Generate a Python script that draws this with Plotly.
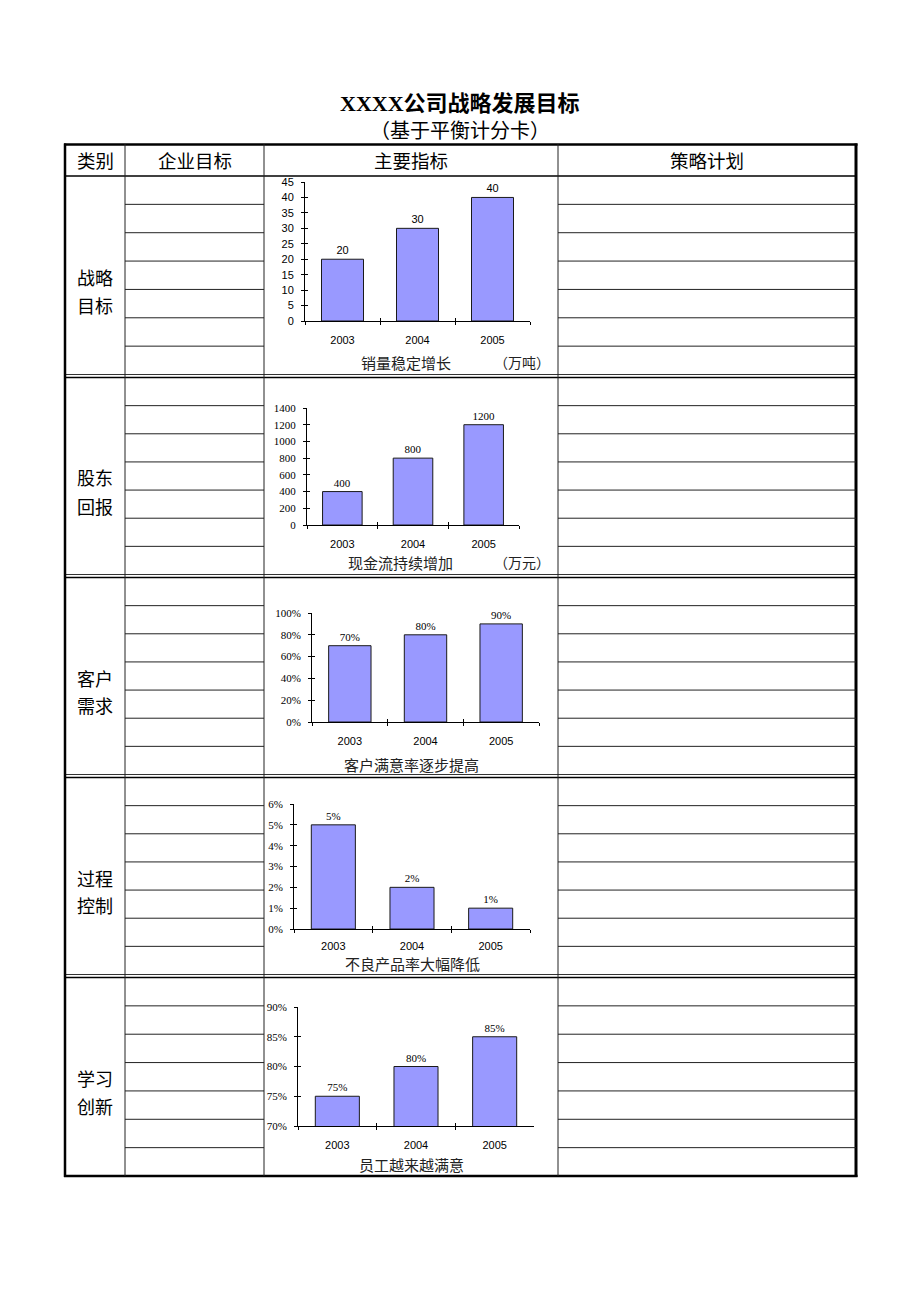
import plotly.graph_objects as go

W, H = 920, 1301

# ---------------- data ----------------
years = ['2003', '2004', '2005']
sales = [20, 30, 40]                 # 销量 (万吨)
cashflow = [400, 800, 1200]          # 现金流 (万元)
satisfaction = [0.70, 0.80, 0.90]    # 客户满意率
defect_rate = [0.05, 0.02, 0.01]     # 不良产品率
employee_sat = [0.75, 0.80, 0.85]    # 员工满意度

title_text = 'XXXX公司战略发展目标'
subtitle_text = '（基于平衡计分卡）'
header_labels = ['类别', '企业目标', '主要指标', '策略计划']
category_labels = [['战略', '目标'], ['股东', '回报'], ['客户', '需求'],
                   ['过程', '控制'], ['学习', '创新']]
captions = ['销量稳定增长', '现金流持续增加', '客户满意率逐步提高',
            '不良产品率大幅降低', '员工越来越满意']
units = ['（万吨）', '（万元）', '', '', '']

series = [sales, cashflow, satisfaction, defect_rate, employee_sat]
y_ranges = [[0, 45], [0, 1400], [0, 1.0], [0, 0.06], [0.70, 0.90]]
y_dticks = [5, 200, 0.2, 0.01, 0.05]
y_formats = ['', '', '.0%', '.0%', '.0%']
text_templates = ['%{y}', '%{y}', '%{y:.0%}', '%{y:.0%}', '%{y:.0%}']

# ---------------- layout geometry (pixels) ----------------
def px(x):
    return x / W

def py(y):
    return 1 - y / H

# chart plot areas: (x0, x1, ytop, ybottom)
chart_boxes = [(305, 530, 182, 321), (307, 519, 408, 525), (312, 539, 613, 722),
               (294, 530, 804, 929), (298, 534, 1007, 1126)]
label_standoff = [9, 9, 9, 7, 9]
caption_pos = [(406, 362), (400, 562), (411, 764), (412, 964), (411, 1164)]
unit_x = 522

col_x = [65, 125, 264, 558, 856]
top_y, head_y = 144.5, 176
sec_start = [176, 377.5, 577.5, 777.5, 977.5]
sec_end = [374.5, 574.5, 774.5, 974.5, 1176]

SERIF = 'Liberation Serif, Noto Sans CJK SC, serif'
SANS = 'Liberation Sans, Arial, sans-serif'
CJK = 'Noto Sans CJK SC, sans-serif'

fig = go.Figure()
layout = dict(width=W, height=H, margin=dict(l=0, r=0, t=0, b=0, pad=0),
              autosize=False,
              paper_bgcolor='white', plot_bgcolor='white', showlegend=False,
              bargap=0.44)

annotations = []
shapes = []


def note(x, y, text, font):
    annotations.append(dict(x=px(x), y=py(y), xref='paper', yref='paper', text=text,
                            showarrow=False, xanchor='center', yanchor='middle',
                            font=font))


ncat = len(years)
boundaries = [k - 0.5 for k in range(ncat + 1)]

for i, vals in enumerate(series):
    n = i + 1
    m = n + len(series)          # overlay axes id (for crossing tick marks)
    xa = 'x' if n == 1 else f'x{n}'
    ya = 'y' if n == 1 else f'y{n}'
    fig.add_trace(go.Bar(
        x=years, y=vals, xaxis=xa, yaxis=ya,
        marker=dict(color='#9999FF', line=dict(color='#1a1a1a', width=1)),
        texttemplate=text_templates[i], textposition='outside',
        textfont=dict(family=SANS if i == 0 else SERIF, size=11, color='black'),
        cliponaxis=False, hoverinfo='skip'))
    # empty trace that creates the overlay subplot used for inner tick halves
    fig.add_trace(go.Scatter(x=[], y=[], xaxis=f'x{m}', yaxis=f'y{m}',
                             hoverinfo='skip', showlegend=False))
    x0, x1, yt, yb = chart_boxes[i]
    xkey = 'xaxis' if n == 1 else f'xaxis{n}'
    ykey = 'yaxis' if n == 1 else f'yaxis{n}'
    layout[xkey] = dict(domain=[px(x0), px(x1)], anchor=ya, type='category',
                        automargin=False,
                        showline=True, linecolor='black', linewidth=1,
                        ticks='outside', ticklen=3, tickwidth=1, tickcolor='black',
                        tickson='boundaries', showgrid=False, zeroline=False,
                        ticklabelstandoff=label_standoff[i],
                        tickfont=dict(family=SANS, size=11, color='black'))
    layout[ykey] = dict(domain=[py(yb), py(yt)], anchor=xa, range=y_ranges[i],
                        automargin=False,
                        dtick=y_dticks[i], tick0=y_ranges[i][0], tickformat=y_formats[i],
                        showline=True, linecolor='black', linewidth=1,
                        ticks='outside', ticklen=3, tickwidth=1, tickcolor='black',
                        showgrid=False, zeroline=False, ticklabelstandoff=5,
                        tickfont=dict(family=SANS if i == 0 else SERIF, size=11,
                                      color='black'))
    layout[f'xaxis{m}'] = dict(overlaying=xa, anchor=f'y{m}', domain=[px(x0), px(x1)],
                               range=[-0.5, ncat - 0.5], tickvals=boundaries,
                               ticks='inside', ticklen=3, tickwidth=1, tickcolor='black',
                               showticklabels=False, showline=False, showgrid=False,
                               zeroline=False, automargin=False, fixedrange=True)
    layout[f'yaxis{m}'] = dict(overlaying=ya, anchor=f'x{m}', domain=[py(yb), py(yt)],
                               range=y_ranges[i], dtick=y_dticks[i], tick0=y_ranges[i][0],
                               ticks='inside', ticklen=3, tickwidth=1, tickcolor='black',
                               showticklabels=False, showline=False, showgrid=False,
                               zeroline=False, automargin=False, fixedrange=True)
    cx, cy = caption_pos[i]
    note(cx, cy, captions[i], dict(family=CJK, size=15, color='#222'))
    if units[i]:
        note(unit_x, cy, units[i], dict(family=CJK, size=14, color='#222'))

# titles
note(460, 103, '<b>' + title_text + '</b>', dict(family=SERIF, size=22, color='black'))
note(460, 130, subtitle_text, dict(family=CJK, size=20, color='black'))

# header labels
for j, lab in enumerate(header_labels):
    cx = (col_x[j] + col_x[j + 1]) / 2
    note(cx, 160, lab, dict(family=CJK, size=18.5, color='black'))

# category labels
for i, labs in enumerate(category_labels):
    mid = (sec_start[i] + sec_end[i]) / 2
    for k, lab in enumerate(labs):
        note(95, mid + 1.5 + 28 * k, lab, dict(family=CJK, size=18, color='black'))


def hline(y, xa, xb, w=1, c='black'):
    shapes.append(dict(type='line', xref='paper', yref='paper', x0=px(xa), x1=px(xb),
                       y0=py(y), y1=py(y), line=dict(color=c, width=w)))


def vline(x, ya, yb, w=1, c='black'):
    shapes.append(dict(type='line', xref='paper', yref='paper', x0=px(x), x1=px(x),
                       y0=py(ya), y1=py(yb), line=dict(color=c, width=w)))


# table borders
hline(top_y, 64, 857.5, 2.5)
hline(head_y, 65, 856, 1.5)
for i in range(4):
    hline(sec_end[i], 65, 856, 1, '#333')
    hline(sec_start[i + 1], 65, 856, 1.5)
hline(1176, 64, 857.5, 2.5)
vline(65, 143.5, 1177, 2.5)
vline(856, 143.5, 1177, 3)
for x in col_x[1:4]:
    vline(x, 144, 1176, 1, '#222')

# row lines in 企业目标 and 策略计划 columns
for i in range(5):
    step = (sec_end[i] - sec_start[i]) / 7
    for k in range(1, 7):
        y = sec_start[i] + k * step
        hline(y, 125, 264, 1, '#222')
        hline(y, 558, 856, 1, '#222')

layout['annotations'] = annotations
layout['shapes'] = shapes
fig.update_layout(**layout)
fig.write_html('out.html')
